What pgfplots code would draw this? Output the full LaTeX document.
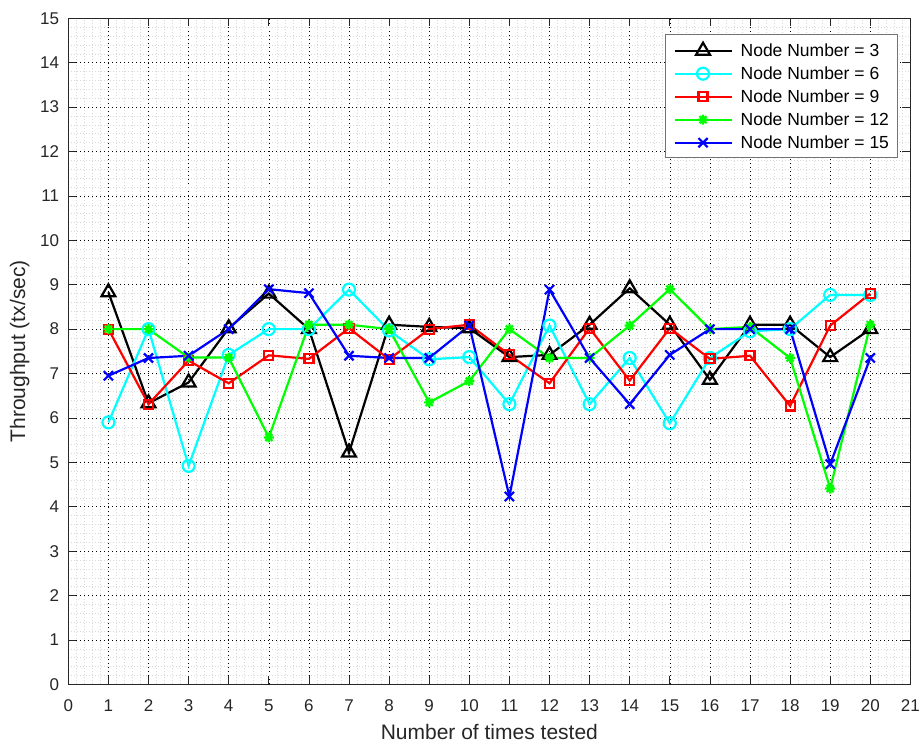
\documentclass[border=0pt]{standalone}
\usepackage{fontspec}
\setmainfont{Liberation Sans}
\usepackage{pgfplots}
\usepackage{pgfplotstable}
\pgfplotsset{compat=1.18}
\usetikzlibrary{calc}

\pgfdeclareplotmark{mast}{%
  \pgfpathmoveto{\pgfqpoint{-\pgfplotmarksize}{0pt}}\pgfpathlineto{\pgfqpoint{\pgfplotmarksize}{0pt}}%
  \pgfpathmoveto{\pgfqpoint{0pt}{-\pgfplotmarksize}}\pgfpathlineto{\pgfqpoint{0pt}{\pgfplotmarksize}}%
  \pgfpathmoveto{\pgfqpoint{-.7071\pgfplotmarksize}{-.7071\pgfplotmarksize}}\pgfpathlineto{\pgfqpoint{.7071\pgfplotmarksize}{.7071\pgfplotmarksize}}%
  \pgfpathmoveto{\pgfqpoint{-.7071\pgfplotmarksize}{.7071\pgfplotmarksize}}\pgfpathlineto{\pgfqpoint{.7071\pgfplotmarksize}{-.7071\pgfplotmarksize}}%
  \pgfusepathqstroke}

\pgfplotstableread{
x  n3   n6   n9   n12  n15
1  8.83 5.90 8.00 8.00 6.95
2  6.33 8.00 6.31 8.00 7.35
3  6.80 4.92 7.29 7.36 7.40
4  8.02 7.42 6.78 7.36 8.00
5  8.80 8.00 7.41 5.56 8.90
6  8.00 8.00 7.33 8.10 8.81
7  5.22 8.89 8.02 8.10 7.40
8  8.10 7.97 7.32 8.00 7.35
9  8.05 7.32 8.00 6.35 7.35
10 8.02 7.37 8.10 6.83 8.08
11 7.37 6.31 7.42 8.00 4.23
12 7.42 8.08 6.78 7.35 8.89
13 8.10 6.31 8.02 7.35 7.35
14 8.92 7.35 6.84 8.08 6.31
15 8.10 5.88 8.02 8.90 7.42
16 6.86 7.35 7.33 8.00 8.00
17 8.10 7.95 7.40 8.05 8.00
18 8.10 8.00 6.27 7.35 8.00
19 7.37 8.77 8.08 4.41 4.96
20 8.00 8.77 8.80 8.10 7.35
}\data

\definecolor{axgray}{rgb}{0.15,0.15,0.15}
\definecolor{mcyan}{rgb}{0,1,1}
\definecolor{mgreen}{rgb}{0,1,0}
\definecolor{mred}{rgb}{1,0,0}
\definecolor{mblue}{rgb}{0,0,1}

\begin{document}
\begin{tikzpicture}
\begin{axis}[
  name=ax,
  width=842pt, height=666pt, scale only axis,
  xmin=0, xmax=21, ymin=0, ymax=15,
  xtick={0,...,21}, ytick={0,...,15},
  minor x tick num=4, minor y tick num=4,
  grid=both,
  major grid style={black, line width=0.5pt, dash pattern=on 1pt off 3pt},
  minor grid style={black!15, line width=0.5pt, dash pattern=on 1pt off 2pt},
  tick align=inside, major tick length=8pt, minor tick length=0pt,
  axis line style={axgray, line width=0.8pt},
  tick style={axgray, line width=0.8pt},
  /pgf/number format/assume math mode=true,
  ticklabel style={font=\fontsize{17}{20}\selectfont, inner sep=0pt, text=axgray},
  xticklabel style={anchor=north, yshift=-15pt},
  yticklabel style={anchor=east, xshift=-9pt},
  every axis x label/.style={at={(rel axis cs:0.5,0)}, yshift=-47.5pt, anchor=center},
  every axis y label/.style={at={(rel axis cs:0,0.5)}, xshift=-48.5pt, rotate=90, anchor=center},
  label style={font=\fontsize{21}{25}\selectfont, text=axgray},
  xlabel={Number of times tested},
  ylabel={Throughput (tx/sec)},
  legend cell align=left,
  legend image code/.code={\draw[mark repeat=2,mark phase=2,#1] plot coordinates {(0pt,0pt) (28.5pt,0pt) (57pt,0pt)};},
  legend style={at={(1,1)}, anchor=north east, xshift=-13pt, yshift=-16pt,
    draw=black!55, line width=0.8pt, fill=white, inner xsep=8pt, inner ysep=8pt,
    font=\fontsize{17.5}{21}\selectfont, row sep=10.5pt, column sep=8pt,
    nodes={inner sep=0pt, text height=12.5pt, text depth=0pt}},
  every axis plot/.append style={line width=2.2pt, mark options={solid}},
]
\addplot[black, mark=triangle, mark size=8pt] table[x=x,y=n3] {\data};
\addlegendentry{Node Number = 3}
\addplot[mcyan, mark=o, mark size=6pt] table[x=x,y=n6] {\data};
\addlegendentry{Node Number = 6}
\addplot[mred, mark=square, mark size=4.5pt] table[x=x,y=n9] {\data};
\addlegendentry{Node Number = 9}
\addplot[mgreen, mark=mast, mark size=5pt] table[x=x,y=n12] {\data};
\addlegendentry{Node Number = 12}
\addplot[mblue, mark=x, mark size=6.5pt] table[x=x,y=n15] {\data};
\addlegendentry{Node Number = 15}
\end{axis}
\pgfresetboundingbox
\path[use as bounding box] ($(ax.south west)+(-68.3pt,-58pt)$) rectangle ($(ax.north east)+(10.6pt,18.3pt)$);
\end{tikzpicture}
\end{document}
